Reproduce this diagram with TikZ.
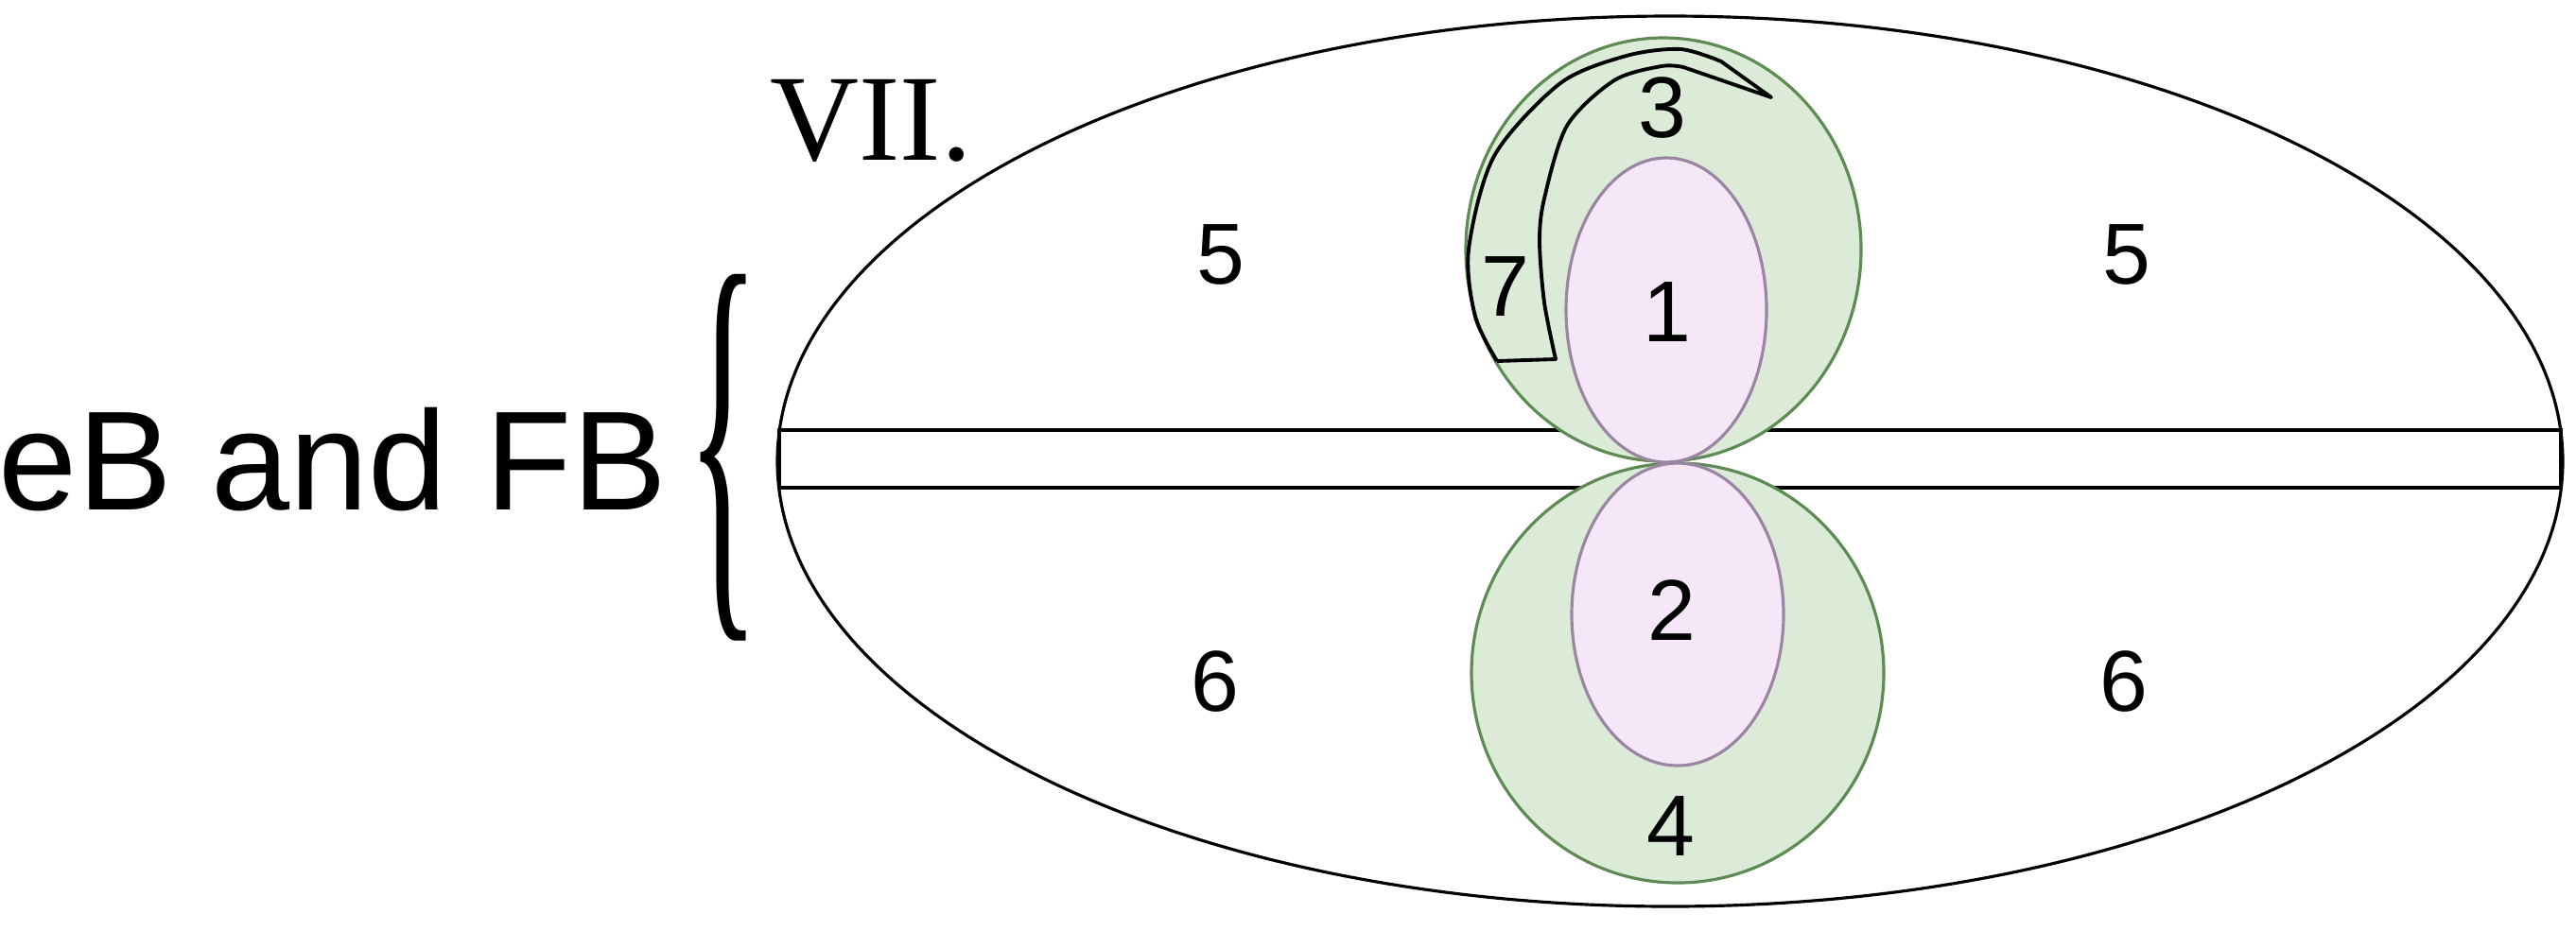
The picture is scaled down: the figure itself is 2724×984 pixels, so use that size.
\documentclass[tikz,border=0pt]{standalone}
\usepackage{fontspec}
\setmainfont{Liberation Sans}
\newfontfamily\romanfont{Liberation Serif}
\usetikzlibrary{positioning}

\definecolor{cellgreen}{HTML}{DCEBD8}
\definecolor{edgegreen}{HTML}{5E8A54}
\definecolor{cellpink}{HTML}{F5E6F8}
\definecolor{edgepink}{HTML}{9A86A2}

\begin{document}
\begin{tikzpicture}[
    x=0.01cm, y=-0.01cm,
    num/.style={font=\fontsize{26}{30}\selectfont, inner sep=0pt},
    outer/.style={draw=black, line width=0.9pt},
    bud/.style={draw=edgegreen, fill=cellgreen, line width=0.9pt},
    core/.style={draw=edgepink, fill=cellpink, line width=0.9pt}
]
\useasboundingbox (0,0) rectangle (2724,984);

% outer body and band
\draw[outer] (1766,488) ellipse (944 and 471);
\draw[outer, fill=white] (824,455) rectangle (2708,516);

% lobes
\draw[bud] (1759,264) ellipse (209 and 224);
\draw[bud] (1774,712) ellipse (218 and 222);
\draw[core] (1762,328) ellipse (106 and 161);
\draw[core] (1774,650) ellipse (112 and 160);

% region 7 outline
\draw[black, line width=1.1pt, line join=round]
    plot[smooth] coordinates {(1583,382) (1560,335) (1553,264) (1580,165) (1650,88) (1720,59) (1777,52) (1820,65)}
    -- (1873,103) -- (1780,71)
    plot[smooth] coordinates {(1780,71) (1757,70) (1707,85) (1657,133) (1633,210) (1628,255) (1633,320) (1645,380)}
    -- (1583,382);

% labels
\node[num] (n1) at (1763,330) {1};
\node[num] (n2) at (1768,646) {2};
\node[num] (n3) at (1758,114) {3};
\node[num] (n4) at (1767,874) {4};
\node[num] (n5l) at (1291,269) {5};
\node[num] (n5r) at (2249,269) {5};
\node[num] (n6l) at (1285,721) {6};
\node[num] (n6r) at (2246,721) {6};
\node[num] (n7) at (1592,303) {7};

\node[inner sep=0pt, font=\romanfont\fontsize{37}{40}\selectfont] (title) at (921,128) {VII.};
\node[inner sep=0pt, font=\fontsize{42.5}{46}\selectfont] (name) at (352,486) {eB and FB};
\node[inner sep=0pt] (brace) at (765,484) {\resizebox{0.77cm}{3.25cm}{\romanfont\{}};
\end{tikzpicture}
\end{document}
